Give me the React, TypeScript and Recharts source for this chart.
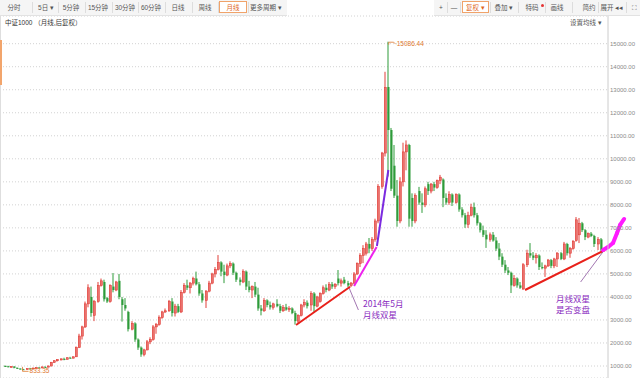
import React from 'react';
import { ComposedChart, Bar, XAxis, YAxis, CartesianGrid, ReferenceLine, ReferenceDot } from 'recharts';

// [open, high, low, close] per month, 中证1000 月线 (后复权)
type OHLC = [number, number, number, number];

const candles2005to2008: OHLC[] = [
  [1000, 1030, 960, 990], [990, 1010, 940, 960], [960, 1000, 930, 980], [980, 990, 900, 920],
  [920, 940, 870, 890], [890, 900, 840, 860], [860, 880, 833.35, 850], [850, 900, 840, 890],
  [890, 920, 860, 880], [880, 930, 870, 910], [910, 950, 890, 930], [930, 960, 900, 920],
  [920, 980, 910, 960], [960, 990, 930, 950], [950, 1020, 940, 1000], [1000, 1180, 990, 1160],
  [1160, 1260, 1130, 1230], [1230, 1300, 1190, 1280], [1280, 1330, 1240, 1310], [1310, 1360, 1250, 1290],
  [1290, 1380, 1280, 1360], [1360, 1400, 1320, 1340], [1340, 1420, 1330, 1400], [1400, 1850, 1390, 1800],
  [1800, 2400, 1780, 2300], [2300, 2750, 2150, 2700], [2700, 3800, 2650, 3700], [3700, 4550, 3550, 4400],
  [4000, 4450, 3140, 3300], [3200, 3870, 2950, 3800], [3800, 4650, 3750, 4500], [4500, 4800, 4450, 4700],
  [4650, 4750, 3800, 3900], [3950, 4000, 3740, 3800], [3800, 4550, 3750, 4500], [4450, 5040, 4200, 4300],
  [4300, 4700, 4250, 4650], [4700, 5000, 3900, 4000], [3900, 4000, 2930, 3650], [3650, 3950, 3400, 3500],
  [3350, 3400, 2500, 2600], [2600, 2950, 2550, 2850], [2850, 2900, 2050, 2150], [2150, 2200, 1700, 1800],
  [1800, 1850, 1400, 1500], [1500, 1750, 1420, 1700], [1700, 2130, 1680, 2050], [2050, 2250, 1950, 2150],
];

const candles2009to2012: OHLC[] = [
  [2150, 2780, 2100, 2700], [2700, 2870, 2400, 2800], [2800, 3200, 2750, 3100], [3100, 3400, 3050, 3350],
  [3350, 3500, 3300, 3400], [3400, 3870, 3350, 3800], [3800, 3950, 3150, 3300], [3300, 3700, 3150, 3600],
  [3600, 3700, 3300, 3350], [3350, 4300, 3300, 4200], [4200, 4600, 4150, 4500], [4500, 4750, 4300, 4400],
  [4400, 4650, 4150, 4600], [4600, 4880, 4500, 4800], [4800, 5100, 4500, 4550], [4550, 4650, 4050, 4150],
  [4150, 4300, 3750, 3850], [3850, 4300, 3520, 4250], [4250, 4700, 4200, 4600], [4600, 5050, 4550, 5000],
  [5000, 5300, 4850, 5200], [5200, 5820, 5150, 5500], [5500, 5550, 4900, 5100], [5100, 5400, 4600, 4950],
  [4950, 5450, 4900, 5350], [5350, 5550, 5250, 5450], [5450, 5500, 4950, 5050], [5050, 5100, 4650, 4750],
  [4750, 4850, 4500, 4650], [4650, 5200, 4600, 5100], [5100, 5150, 4300, 4450], [4450, 4700, 4200, 4300],
  [4300, 4500, 3950, 4450], [4450, 4650, 4000, 4100], [4100, 4400, 3400, 3500], [3500, 3650, 3200, 3400],
  [3400, 3950, 3350, 3850], [3850, 3900, 3550, 3650], [3650, 3800, 3450, 3550], [3550, 3750, 3450, 3700],
  [3700, 3900, 3550, 3600], [3600, 3700, 3300, 3400], [3400, 3650, 3350, 3550], [3550, 3700, 3400, 3450],
  [3450, 3600, 3350, 3500], [3500, 3550, 3250, 3300], [3300, 3400, 2800, 2950], [2950, 3250, 2850, 3200],
];

const candles2013to2016: OHLC[] = [
  [3200, 3700, 3150, 3650], [3650, 3900, 3550, 3750], [3750, 3850, 3500, 3600], [3650, 4250, 3400, 4150],
  [4150, 4210, 3350, 3600], [3600, 4050, 3550, 4000], [3800, 4200, 3750, 4150], [4150, 4500, 4100, 4400],
  [4400, 4550, 4200, 4300], [4300, 4650, 4250, 4550], [4550, 4650, 4350, 4450], [4450, 4600, 4350, 4550],
  [4800, 5170, 4500, 4600], [4600, 4800, 4450, 4700], [4750, 4870, 4550, 4600], [4600, 4700, 4430, 4500],
  [4500, 4650, 4430, 4600], [4600, 5080, 4550, 5000], [5000, 5500, 4950, 5450], [5450, 5900, 5300, 5800],
  [5800, 6250, 5470, 6100], [5900, 6390, 5800, 6300], [6300, 6560, 5900, 6100], [6100, 6600, 6000, 6500],
  [6500, 7400, 6400, 7300], [7300, 8900, 7200, 8800], [8800, 10300, 8700, 10250], [10250, 13780, 10100, 13100],
  [13120, 15086.44, 9230, 11250], [11250, 11340, 8600, 8700], [9700, 10600, 8300, 8400], [8400, 9080, 7050, 7300],
  [7300, 9200, 7200, 9000], [9000, 10700, 8800, 10300], [10300, 10800, 9500, 10600], [10600, 10650, 7050, 7400],
  [8300, 8500, 7050, 7300], [7300, 8500, 7200, 8400], [8600, 8780, 8000, 8100], [8100, 8500, 7650, 8000],
  [8000, 8800, 7900, 8700], [8900, 9000, 8430, 8600], [8600, 8950, 8500, 8900], [8900, 9000, 8600, 8750],
  [8750, 9100, 8700, 9050], [9050, 9300, 8900, 9200], [9100, 9150, 7900, 8300], [8300, 8500, 8000, 8100],
];

const candles2017to2021: OHLC[] = [
  [8100, 8590, 8000, 8450], [8450, 8500, 7950, 8100], [8100, 8500, 8050, 8450], [8450, 8500, 7700, 7800],
  [7800, 7900, 7450, 7550], [7550, 7650, 7000, 7150], [7150, 7700, 7000, 7550], [7550, 8050, 7500, 7900],
  [7900, 8100, 7450, 7550], [7550, 7650, 7100, 7200], [7200, 7250, 6800, 6900], [6900, 7100, 6600, 6700],
  [6700, 6900, 6130, 6500], [6500, 6800, 6400, 6700], [6700, 6820, 6400, 6450], [6450, 6600, 6000, 6100],
  [6100, 6340, 5600, 5750], [5750, 5900, 5300, 5400], [5400, 5600, 5040, 5150], [5150, 5300, 4950, 5050],
  [5050, 5100, 4170, 4500], [4500, 4950, 4450, 4800], [4800, 4850, 4400, 4500], [4500, 4650, 4350, 4400],
  [4350, 5470, 4300, 5400], [5400, 6050, 5300, 5900], [5900, 6340, 5700, 5800], [5800, 5950, 5600, 5700],
  [5700, 5900, 5450, 5800], [5800, 5850, 5170, 5300], [5300, 5500, 5200, 5250], [5250, 5400, 4870, 5350],
  [5350, 5650, 5300, 5600], [5600, 5650, 5250, 5350], [5350, 5700, 5250, 5650], [5650, 5950, 5300, 5900],
  [5900, 5950, 5600, 5650], [5650, 6390, 5600, 6300], [6300, 6350, 5800, 5900], [5900, 6170, 5700, 6100],
  [6100, 6470, 6050, 6400], [6450, 7470, 6400, 7350], [6700, 7430, 6340, 7200], [7200, 7260, 6820, 6900],
  [6900, 6950, 6470, 6600], [6600, 6800, 6550, 6750], [6750, 6820, 6600, 6650], [6650, 6700, 6170, 6300],
  [6300, 6600, 6040, 6500], [6500, 6560, 6000, 6050],
];

const yTicks = [1000, 2000, 3000, 4000, 5000, 6000, 7000, 8000, 9000, 10000, 11000, 12000, 13000, 14000, 15000];

// hand-drawn annotations, in (month index, index value)
const supportLeft = [[94.3, 2780], [111.8, 4445]];
const breakoutMagenta = [[113.1, 4475], [120.4, 6170]];
const breakoutPurple = [[120.5, 6213], [124.2, 9514]];
const pointerLeft = [[111.5, 4388], [114.5, 3433]];
const supportRight = [[168.5, 4301], [194.4, 6039]];
const pointerRight = [[193.7, 5952], [186.5, 4649]];
const projection = [[193.75, 6040], [195.4, 6170], [197.0, 6343], [198.3, 6778], [199.3, 7126], [200.6, 7386]];

const peakLabel = '15086.44';
const lowLabel = '833.35';
const noteLeft = ['2014年5月', '月线双星'];
const noteRight = ['月线双星', '是否变盘'];

const allCandles = [...candles2005to2008, ...candles2009to2012, ...candles2013to2016, ...candles2017to2021];
const data = allCandles.map(([o, h, l, c], i) => ({ i, o, h, l, c, range: [l, h] }));

let peakIdx = 0;
let lowIdx = 0;
data.forEach((d, i) => {
  if (d.h > data[peakIdx].h) peakIdx = i;
  if (d.l < data[lowIdx].l) lowIdx = i;
});

const FONT = "'Liberation Sans', Arial, 'Noto Sans CJK SC', sans-serif";
const CJK = "'Noto Sans CJK SC', sans-serif";
const UP_LINE = '#e2403b';
const UP_FILL = '#f3a5a1';
const DOWN = '#2f9b3b';
const NOTE = '#8a2cc0';

function CandleShape(props: any) {
  const { x, y, width, height, payload } = props;
  if (x == null || y == null || !payload) return null;
  const { o, h, l, c } = payload;
  const top = Math.min(y, y + height);
  const span = Math.abs(height);
  const k = h > l ? span / (h - l) : 0;
  const yO = top + (h - o) * k;
  const yC = top + (h - c) * k;
  const up = c >= o;
  const px = Math.floor(x + width / 2);
  const bodyTop = Math.min(yO, yC);
  const bodyH = Math.max(1, Math.abs(yO - yC));
  return (
    <g>
      <rect x={px - 0.5} y={bodyTop} width={2} height={bodyH} fill={up ? UP_FILL : DOWN} />
      <rect x={px - 0.5} y={top} width={1} height={Math.max(1, span)} fill={up ? UP_LINE : DOWN} />
      {up && <rect x={px - 0.5} y={bodyTop} width={2} height={bodyH} fill="none" stroke={UP_LINE} strokeWidth={0.6} />}
    </g>
  );
}

function PeakMark(props: any) {
  const { cx, cy } = props;
  return (
    <g>
      <path d={`M${cx + 1},${cy + 3} L${cx + 1},${cy + 0.5} L${cx + 6},${cy + 0.5} L${cx + 8},${cy + 2.5}`} stroke="#e0792f" strokeWidth={0.8} fill="none" />
      <text x={cx + 9} y={cy + 4.5} fontSize={6.5} fill="#e0792f" fontFamily={FONT}>{peakLabel}</text>
    </g>
  );
}

function LowMark(props: any) {
  const { cx, cy } = props;
  return (
    <g>
      <path d={`M${cx - 1},${cy - 3} L${cx - 1},${cy + 1.5} L${cx + 5},${cy + 1.5}`} stroke="#e0792f" strokeWidth={0.8} fill="none" />
      <text x={cx + 6} y={cy + 3.5} fontSize={6.5} fill="#e0792f" fontFamily={FONT}>{lowLabel}</text>
    </g>
  );
}

function segs(points: number[][]) {
  const out: any[] = [];
  for (let k = 0; k < points.length - 1; k++) {
    out.push([{ x: points[k][0], y: points[k][1] }, { x: points[k + 1][0], y: points[k + 1][1] }]);
  }
  return out;
}

const leftTabs = [
  { t: '分时', c: 14 }, { t: '5日 ▾', c: 46 }, { t: '5分钟', c: 71 }, { t: '15分钟', c: 98 },
  { t: '30分钟', c: 125 }, { t: '60分钟', c: 151 }, { t: '日线', c: 178 }, { t: '周线', c: 205 },
  { t: '更多周期 ▾', c: 266 },
];
const leftSeps = [32, 58, 85, 112, 138, 165, 192, 218, 248];
const rightTabs = [
  { t: '+', c: 441 }, { t: '—', c: 454 }, { t: '叠加 ▾', c: 504 }, { t: '特码', c: 532 },
  { t: '画线', c: 557 }, { t: '简约', c: 589 }, { t: '展开 ◂◂', c: 612 }, { t: '⛶', c: 634 },
];
const rightSeps = [447, 460, 490, 518, 545, 572, 598, 626];

export default function App() {
  const tabStyle = (c: number): React.CSSProperties => ({
    position: 'absolute', left: c - 20, width: 40, top: 0, height: 15, lineHeight: '15px',
    textAlign: 'center', fontSize: 6.5, color: '#555', whiteSpace: 'nowrap',
  });
  const sel = (l: number, w: number): React.CSSProperties => ({
    position: 'absolute', left: l, width: w, top: 1, height: 12, lineHeight: '12px', textAlign: 'center',
    fontSize: 6.5, color: '#e0661b', background: '#fff', border: '1px solid #f0a36a', boxSizing: 'border-box',
    whiteSpace: 'nowrap',
  });
  const note = (left: number, top: number, w?: number): React.CSSProperties => ({
    position: 'absolute', left, top, width: w, textAlign: w ? 'center' : 'left', fontSize: 8.5,
    lineHeight: '9px', height: 9, color: NOTE, whiteSpace: 'nowrap', fontFamily: CJK,
  });
  return (
    <div style={{ position: 'absolute', left: 0, top: 0, width: 640, height: 378, background: '#fff', fontFamily: FONT, overflow: 'hidden' }}>
      <div style={{ position: 'absolute', left: 0, top: 0 }}>
        <ComposedChart width={640} height={378} data={data} margin={{ top: 16, right: 0, bottom: 0, left: 0 }}>
          <CartesianGrid horizontal vertical={false} stroke="#d2d2d2" strokeDasharray="1 2" />
          <XAxis dataKey="i" type="number" domain={[-1.62, 195.37]} allowDataOverflow hide />
          <YAxis
            orientation="right" width={32} domain={[479, 16203]} allowDataOverflow ticks={yTicks} interval={0}
            tickFormatter={(v: number) => v.toFixed(2)} tickLine={false} tickSize={0} tickMargin={2}
            axisLine={{ stroke: '#cccccc' }} tick={{ fontSize: 6, fill: '#8a8a8a', fontFamily: FONT }}
          />
          <Bar dataKey="range" barSize={2} shape={CandleShape} isAnimationActive={false} />
          {segs(supportLeft).map((s, k) => (
            <ReferenceLine key={'sl' + k} segment={s} stroke="#e8201a" strokeWidth={2} ifOverflow="visible" />
          ))}
          {segs(breakoutMagenta).map((s, k) => (
            <ReferenceLine key={'bm' + k} segment={s} stroke="#ee22ee" strokeWidth={2} ifOverflow="visible" />
          ))}
          {segs(breakoutPurple).map((s, k) => (
            <ReferenceLine key={'bp' + k} segment={s} stroke="#7b2be0" strokeWidth={2} ifOverflow="visible" />
          ))}
          {segs(supportRight).map((s, k) => (
            <ReferenceLine key={'sr' + k} segment={s} stroke="#e8201a" strokeWidth={2} ifOverflow="visible" />
          ))}
          {segs(pointerLeft).map((s, k) => (
            <ReferenceLine key={'pl' + k} segment={s} stroke="#7a3b8f" strokeWidth={0.7} ifOverflow="visible" />
          ))}
          {segs(pointerRight).map((s, k) => (
            <ReferenceLine key={'pr' + k} segment={s} stroke="#7a3b8f" strokeWidth={0.7} ifOverflow="visible" />
          ))}
          {segs(projection).map((s, k) => (
            <ReferenceLine key={'pj' + k} segment={s} stroke="#ff1aff" strokeWidth={4} strokeLinecap="round" ifOverflow="visible" />
          ))}
          <ReferenceDot x={peakIdx} y={data[peakIdx].h} r={0} shape={PeakMark} ifOverflow="visible" />
          <ReferenceDot x={lowIdx} y={data[lowIdx].l} r={0} shape={LowMark} ifOverflow="visible" />
        </ComposedChart>
      </div>

      {/* toolbar */}
      <div style={{ position: 'absolute', left: 0, top: 0, width: 287, height: 15, background: '#f5f5f5', borderBottom: '1px solid #e2e2e2' }} />
      <div style={{ position: 'absolute', left: 434, top: 0, width: 206, height: 15, background: '#f5f5f5', borderBottom: '1px solid #e2e2e2' }} />
      {leftSeps.map((x) => (
        <div key={'ls' + x} style={{ position: 'absolute', left: x, top: 2, width: 1, height: 11, background: '#dddddd' }} />
      ))}
      {rightSeps.map((x) => (
        <div key={'rs' + x} style={{ position: 'absolute', left: x, top: 2, width: 1, height: 11, background: '#dddddd' }} />
      ))}
      {leftTabs.map((tb) => (
        <div key={tb.t} style={tabStyle(tb.c)}>{tb.t}</div>
      ))}
      <div style={sel(219, 28)}>月线</div>
      {rightTabs.map((tb) => (
        <div key={tb.t} style={tabStyle(tb.c)}>{tb.t}</div>
      ))}
      <div style={sel(462, 27)}>复权 ▾</div>
      <div style={{ position: 'absolute', left: 541, top: 4, width: 3, height: 3, borderRadius: 2, background: '#e53333' }} />

      {/* title row */}
      <div style={{ position: 'absolute', left: 5, top: 17, fontSize: 6.5, color: '#333', whiteSpace: 'nowrap' }}>中证1000 （月线,后复权）</div>
      <div style={{ position: 'absolute', left: 570, top: 17, fontSize: 6.5, color: '#555', whiteSpace: 'nowrap' }}>设置均线 ▾</div>

      {/* left edge marks */}
      <div style={{ position: 'absolute', left: 0, top: 16, width: 1, height: 362, background: '#dedede' }} />
      <div style={{ position: 'absolute', left: 0, top: 40, width: 2, height: 45, background: '#f2a56c' }} />

      {/* annotation texts */}
      <div style={note(363, 299)}>{noteLeft[0]}</div>
      <div style={note(363, 310)}>{noteLeft[1]}</div>
      <div style={note(551, 294, 44)}>{noteRight[0]}</div>
      <div style={note(551, 305, 44)}>{noteRight[1]}</div>
    </div>
  );
}
